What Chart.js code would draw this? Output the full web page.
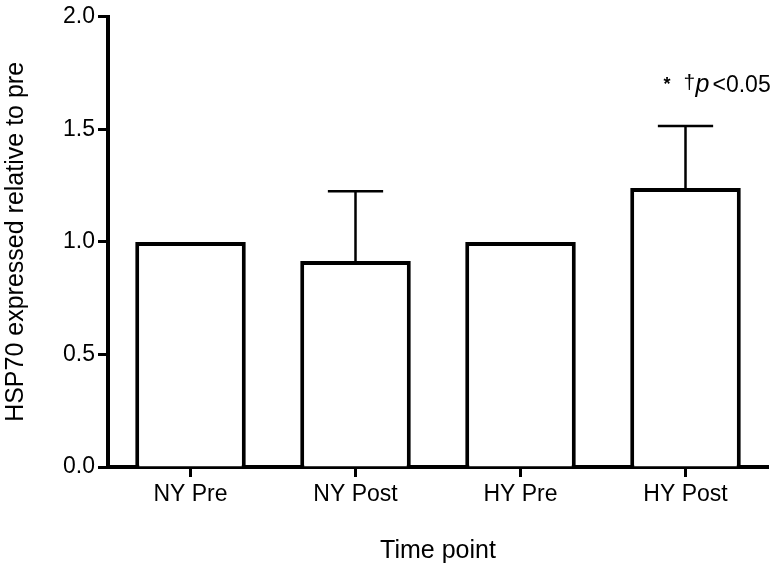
<!DOCTYPE html>
<html>
<head>
<meta charset="utf-8">
<script src="https://cdn.jsdelivr.net/npm/chart.js@4/dist/chart.umd.min.js"></script>
<style>
	html, body { margin: 0; padding: 0; background: #fff; }
	#wrap { width: 781px; height: 570px; }
</style>
</head>
<body>
<div id="wrap"><canvas id="chart" width="781" height="570"></canvas></div>
<script>
const categories = [ 'NY Pre', 'NY Post', 'HY Pre', 'HY Post' ];
const means = [ 1.0, 0.915, 1.0, 1.24 ];
const upperErrors = [ 0, 0.31, 0, 0.275 ];
const yTicks = [ 0, 0.5, 1.0, 1.5, 2.0 ];
const noteLevel = 1.668; // baseline of the significance note, in axis units

const FONT = "'Liberation Sans', Arial, Helvetica, sans-serif";

// upper SEM whiskers with a cap, drawn over the bars
const errorBars = {
	id: 'errorBars',
	afterDatasetsDraw( chart ) {
		const { ctx } = chart;
		const y = chart.scales.y;
		const meta = chart.getDatasetMeta( 0 );
		ctx.save();
		ctx.strokeStyle = '#000';
		ctx.lineWidth = 2.5;
		meta.data.forEach( ( bar, i ) => {
			if ( ! upperErrors[ i ] ) {
				return;
			}
			const top = y.getPixelForValue( means[ i ] + upperErrors[ i ] );
			const half = bar.width * 0.25;
			ctx.beginPath();
			ctx.moveTo( bar.x, bar.y );
			ctx.lineTo( bar.x, top );
			ctx.moveTo( bar.x - half, top );
			ctx.lineTo( bar.x + half, top );
			ctx.stroke();
		} );
		ctx.restore();
	},
};

// "* † p <0.05" above the last bar
const sigNote = {
	id: 'sigNote',
	afterDraw( chart ) {
		const { ctx } = chart;
		const y = chart.scales.y;
		const bar = chart.getDatasetMeta( 0 ).data[ categories.length - 1 ];
		const base = y.getPixelForValue( noteLevel );
		const parts = [
			{ text: '*', font: 'bold 18px ' + FONT, dx: -22, dy: -2 },
			{ text: '†', font: '21px ' + FONT, dx: -2, dy: -3 },
			{ text: 'p', font: 'italic 25px ' + FONT, dx: 10, dy: 0 },
			{ text: '<0.05', font: '23px ' + FONT, dx: 27, dy: 0 },
		];
		ctx.save();
		ctx.fillStyle = '#000';
		ctx.textBaseline = 'alphabetic';
		ctx.textAlign = 'left';
		parts.forEach( ( p ) => {
			ctx.font = p.font;
			ctx.fillText( p.text, bar.x + p.dx, base + p.dy );
		} );
		ctx.restore();
	},
};

Chart.defaults.font.family = FONT;
Chart.defaults.color = '#000';

new Chart( document.getElementById( 'chart' ), {
	type: 'bar',
	data: {
		labels: categories,
		datasets: [
			{
				data: means,
				backgroundColor: '#ffffff',
				borderColor: '#000000',
				borderWidth: 4,
				barPercentage: 0.67,
				categoryPercentage: 1,
			},
		],
	},
	options: {
		responsive: false,
		animation: false,
		layout: {
			padding: { top: 15, right: 13, left: 0, bottom: 0 },
		},
		plugins: {
			legend: { display: false },
			tooltip: { enabled: false },
		},
		scales: {
			x: {
				afterFit( scale ) {
					scale.height = 103;
				},
				grid: {
					offset: false,
					drawOnChartArea: false,
					tickLength: 10,
					tickWidth: 3,
					tickColor: '#000',
				},
				border: { color: '#000', width: 4 },
				ticks: {
					font: { size: 23 },
					padding: 4,
					maxRotation: 0,
				},
				title: {
					display: true,
					text: 'Time point',
					font: { size: 25 },
					padding: { top: 0, bottom: 4 },
				},
			},
			y: {
				min: 0,
				max: 2,
				afterFit( scale ) {
					scale.width = 108;
				},
				afterBuildTicks( scale ) {
					scale.ticks = yTicks.map( ( v ) => ( { value: v } ) );
				},
				grid: {
					drawOnChartArea: false,
					tickLength: 10,
					tickWidth: 3,
					tickColor: '#000',
				},
				border: { color: '#000', width: 4 },
				ticks: {
					font: { size: 23 },
					padding: 3,
					callback( val ) {
						return Number( val ).toFixed( 1 );
					},
				},
				title: {
					display: true,
					text: 'HSP70 expressed relative to pre',
					font: { size: 25 },
					padding: { top: 1, bottom: 0 },
				},
			},
		},
	},
	plugins: [ errorBars, sigNote ],
} );
</script>
</body>
</html>
